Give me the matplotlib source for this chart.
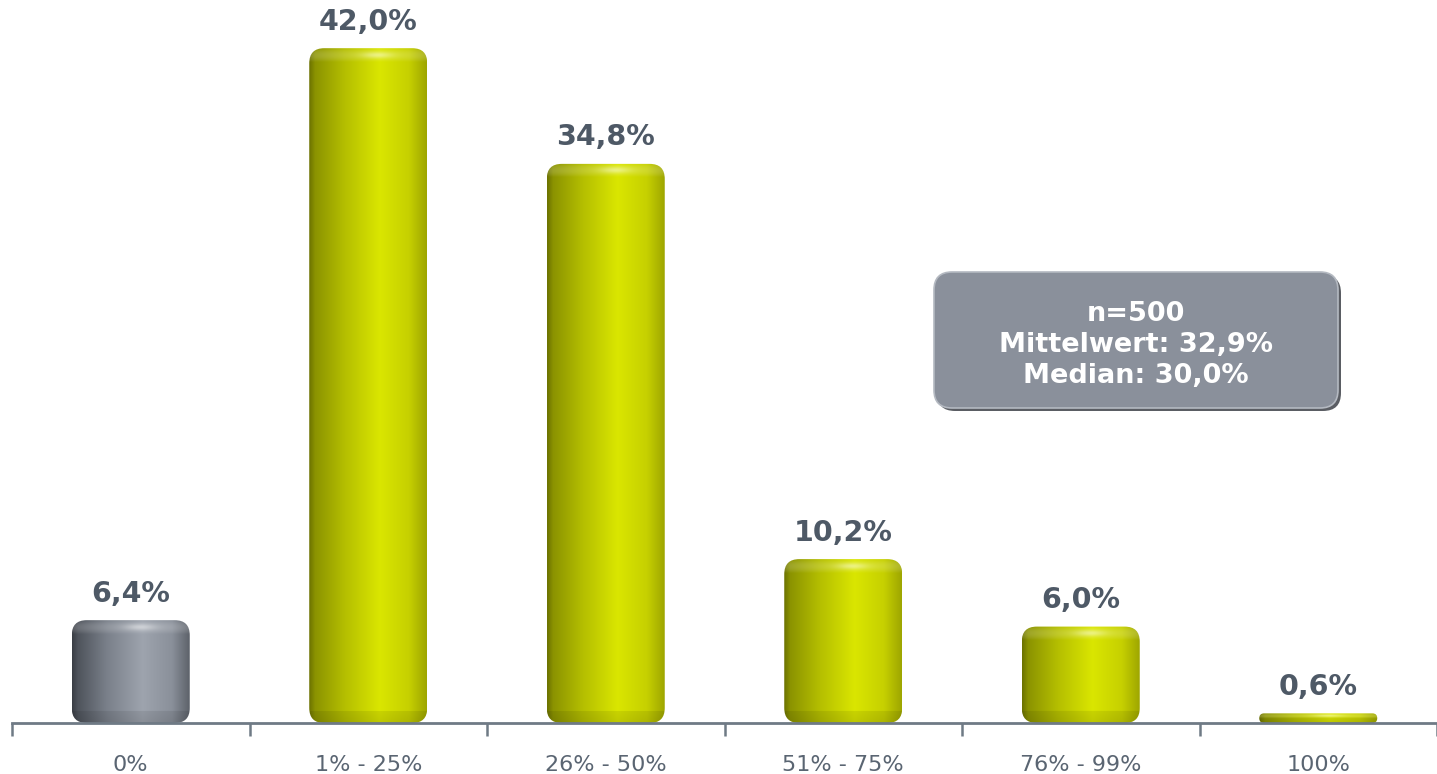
import numpy as np
import matplotlib.pyplot as plt
from matplotlib.patches import FancyBboxPatch
from matplotlib.colors import to_rgb

categories = ['0%', '1% - 25%', '26% - 50%', '51% - 75%', '76% - 99%', '100%']
values = [6.4, 42.0, 34.8, 10.2, 6.0, 0.6]
value_labels = ['6,4%', '42,0%', '34,8%', '10,2%', '6,0%', '0,6%']
bar_kind = ['gray', 'yellow', 'yellow', 'yellow', 'yellow', 'yellow']
stats_text = 'n=500\nMittelwert: 32,9%\nMedian: 30,0%'

# horizontal colour stops for the "cylinder" look
stops = [0.0, 0.05, 0.3, 0.6, 0.85, 1.0]
shades = {
    'yellow': ['#6c7200', '#8b9300', '#b4be00', '#dae600', '#c6d000', '#9ea600'],
    'gray': ['#3a3e45', '#4f545c', '#7b818b', '#9ea4ae', '#8a909a', '#5d626a'],
}

W, H = 1437, 774
fig = plt.figure(figsize=(W / 100, H / 100), dpi=100)
ax = fig.add_axes([12 / W, 51 / H, 1 - 12 / W, 1 - 51 / H])
ymax = 45
ax.set_xlim(-0.5, 5.5)
ax.set_ylim(0, ymax)

px_x = (W - 12) / 6
px_y = (H - 51) / ymax
bw = 118 / px_x


def cylinder(kind, hpx, ncols=160):
    xs = np.linspace(0, 1, ncols)
    cols = np.array([to_rgb(c) for c in shades[kind]])
    base = np.stack([np.interp(xs, stops, cols[:, k]) for k in range(3)], axis=-1)
    nrows = max(int(hpx), 4)
    t = np.arange(nrows) + 0.5
    cap = min(14, hpx / 2)
    # lighter rounded cap on top
    light = np.zeros(nrows)
    top = t < cap
    light[top] = 0.16 * np.sin(np.pi * t[top] / cap)
    dark = np.ones(nrows)
    tb = nrows - t
    bot = tb < min(12, hpx / 2)
    dark[bot] = 0.92 - 0.05 * (1 - tb[bot] / min(12, hpx / 2))
    img = base[None, :, :] * dark[:, None, None]
    img = img + light[:, None, None] * (1 - img)
    # small glint on the cap
    gx = np.exp(-((xs - 0.58) / 0.13) ** 2)
    gy = np.exp(-((t - cap * 0.5) / max(cap * 0.22, 1)) ** 2)
    glint = 0.4 * gy[:, None] * gx[None, :]
    img = img + glint[:, :, None] * (1 - img)
    return np.clip(img, 0, 1)


for i, (v, kind) in enumerate(zip(values, bar_kind)):
    x0 = i - bw / 2
    hpx = v * px_y
    r = min(15, hpx / 2) / px_x
    patch = FancyBboxPatch((x0, 0), bw, v,
                           boxstyle=f'round,pad=0,rounding_size={r}',
                           mutation_aspect=px_x / px_y,
                           fc='none', ec='none')
    ax.add_patch(patch)
    im = ax.imshow(cylinder(kind, hpx), extent=[x0, x0 + bw, 0, v],
                   aspect='auto', interpolation='bilinear', zorder=2)
    im.set_clip_path(patch)
    ax.annotate(value_labels[i], (i, v), xytext=(0, 9), textcoords='offset points',
                ha='center', va='bottom', fontsize=20.5, fontweight='bold',
                color='#4e5966')

ax.set_xlim(-0.5, 5.5)
ax.set_ylim(0, ymax)

for s in ['top', 'right', 'left']:
    ax.spines[s].set_visible(False)
ax.spines['bottom'].set_color('#6f7a85')
ax.spines['bottom'].set_linewidth(2)
ax.set_yticks([])
ax.set_xticks(np.arange(-0.5, 6, 1))
ax.set_xticklabels([])
ax.set_xticks(range(6), minor=True)
ax.set_xticklabels(categories, minor=True, fontsize=16, color='#5a6572')
ax.tick_params(axis='x', which='major', length=9, width=1.8, color='#6f7a85', direction='out')
ax.tick_params(axis='x', which='minor', length=0, pad=23)

# stats box
bx = fig.add_axes([928 / W, (H - 414) / H, 416 / W, 148 / H])
bx.set_xlim(0, 416)
bx.set_ylim(0, 148)
bx.axis('off')
bx.add_patch(FancyBboxPatch((9, 3), 404, 136, boxstyle='round,pad=0,rounding_size=18',
                            fc='#3d4148', ec='none', alpha=0.85))
bx.add_patch(FancyBboxPatch((6, 6), 404, 136, boxstyle='round,pad=0,rounding_size=18',
                            fc='#8a909b', ec='#b4b9c1', lw=1.2))
bx.text(208, 69, stats_text, ha='center', va='center', color='white',
        fontsize=19.5, fontweight='bold', linespacing=1.27)

fig.savefig('out.png', dpi=100)
